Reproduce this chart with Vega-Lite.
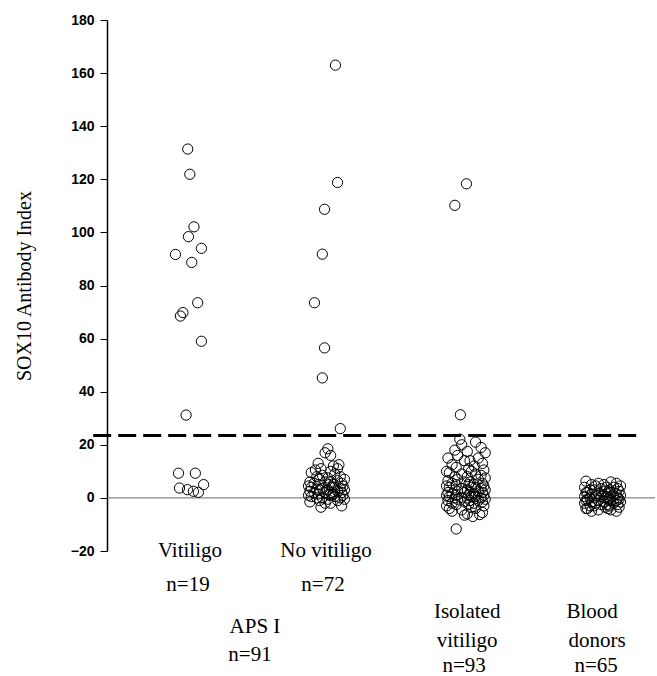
{
  "$schema": "https://vega.github.io/schema/vega-lite/v6.json",
  "autosize": "none",
  "width": 548,
  "height": 531,
  "padding": {"left": 107, "top": 20, "right": 2, "bottom": 125},
  "background": "white",
  "config": {"view": {"stroke": null}},
  "datasets": {
    "points": [
      {"g":"Vitiligo","p":0.995,"v":131.4},{"g":"Vitiligo","p":1.01,"v":121.9},{"g":"Vitiligo","p":1.04,"v":102.1},{"g":"Vitiligo","p":1.0,"v":98.4},{"g":"Vitiligo","p":1.094,"v":94.0},{"g":"Vitiligo","p":0.906,"v":91.7},{"g":"Vitiligo","p":1.024,"v":88.7},{"g":"Vitiligo","p":1.067,"v":73.5},{"g":"Vitiligo","p":0.96,"v":69.8},{"g":"Vitiligo","p":0.942,"v":68.5},{"g":"Vitiligo","p":1.094,"v":59.0},{"g":"Vitiligo","p":0.983,"v":31.2},{"g":"Vitiligo","p":0.928,"v":9.3},{"g":"Vitiligo","p":1.05,"v":9.3},{"g":"Vitiligo","p":1.11,"v":5.0},{"g":"Vitiligo","p":0.935,"v":3.7},{"g":"Vitiligo","p":0.993,"v":3.1},{"g":"Vitiligo","p":1.036,"v":2.5},{"g":"Vitiligo","p":1.072,"v":2.1},
      {"g":"No vitiligo","p":2.065,"v":163},{"g":"No vitiligo","p":2.08,"v":118.8},{"g":"No vitiligo","p":1.986,"v":108.7},{"g":"No vitiligo","p":1.97,"v":91.8},{"g":"No vitiligo","p":1.913,"v":73.5},{"g":"No vitiligo","p":1.986,"v":56.5},{"g":"No vitiligo","p":1.97,"v":45.2},{"g":"No vitiligo","p":2.1,"v":26.1},
      {"g":"No vitiligo","p":2.01,"v":18.5},{"g":"No vitiligo","p":1.99,"v":17},{"g":"No vitiligo","p":2.03,"v":16},{"g":"No vitiligo","p":1.94,"v":13},{"g":"No vitiligo","p":2.09,"v":12.5},{"g":"No vitiligo","p":2.05,"v":12},{"g":"No vitiligo","p":1.96,"v":11},{"g":"No vitiligo","p":2.08,"v":11},{"g":"No vitiligo","p":1.92,"v":10.5},{"g":"No vitiligo","p":2.03,"v":10},
      {"g":"No vitiligo","p":1.89,"v":9.5},{"g":"No vitiligo","p":2.06,"v":9},{"g":"No vitiligo","p":1.97,"v":8.5},{"g":"No vitiligo","p":2.10,"v":8},{"g":"No vitiligo","p":1.93,"v":8},{"g":"No vitiligo","p":2.01,"v":7.5},{"g":"No vitiligo","p":2.13,"v":7},{"g":"No vitiligo","p":1.95,"v":7},{"g":"No vitiligo","p":2.08,"v":6.5},{"g":"No vitiligo","p":1.88,"v":6},{"g":"No vitiligo","p":2.03,"v":6},{"g":"No vitiligo","p":1.99,"v":6},{"g":"No vitiligo","p":2.11,"v":5.5},{"g":"No vitiligo","p":1.91,"v":5.5},{"g":"No vitiligo","p":2.05,"v":5},{"g":"No vitiligo","p":1.94,"v":5},{"g":"No vitiligo","p":2.02,"v":5},{"g":"No vitiligo","p":2.12,"v":4.5},{"g":"No vitiligo","p":1.87,"v":4.5},{"g":"No vitiligo","p":2.04,"v":4},
      {"g":"No vitiligo","p":1.89,"v":4},{"g":"No vitiligo","p":2.06,"v":4},{"g":"No vitiligo","p":1.97,"v":3.5},{"g":"No vitiligo","p":2.10,"v":3.5},{"g":"No vitiligo","p":1.93,"v":3},{"g":"No vitiligo","p":2.01,"v":3},{"g":"No vitiligo","p":2.13,"v":3},{"g":"No vitiligo","p":1.95,"v":3},{"g":"No vitiligo","p":2.08,"v":2.5},{"g":"No vitiligo","p":1.88,"v":2.5},{"g":"No vitiligo","p":2.03,"v":2},{"g":"No vitiligo","p":1.99,"v":2},{"g":"No vitiligo","p":2.11,"v":2},{"g":"No vitiligo","p":1.91,"v":2},{"g":"No vitiligo","p":2.05,"v":1.5},{"g":"No vitiligo","p":1.94,"v":1.5},{"g":"No vitiligo","p":2.02,"v":1},{"g":"No vitiligo","p":2.12,"v":1},{"g":"No vitiligo","p":1.87,"v":1},{"g":"No vitiligo","p":2.04,"v":1},
      {"g":"No vitiligo","p":1.89,"v":0.5},{"g":"No vitiligo","p":2.06,"v":0.5},{"g":"No vitiligo","p":1.97,"v":0},{"g":"No vitiligo","p":2.10,"v":0},{"g":"No vitiligo","p":1.93,"v":0},{"g":"No vitiligo","p":2.01,"v":-0.5},{"g":"No vitiligo","p":2.13,"v":-0.5},{"g":"No vitiligo","p":1.95,"v":-1},{"g":"No vitiligo","p":2.08,"v":-1},{"g":"No vitiligo","p":1.88,"v":-1.5},{"g":"No vitiligo","p":2.03,"v":-2},{"g":"No vitiligo","p":1.99,"v":-2},{"g":"No vitiligo","p":2.11,"v":-3},{"g":"No vitiligo","p":1.96,"v":-3.5},
      {"g":"Isolated vitiligo","p":3.014,"v":118.3},{"g":"Isolated vitiligo","p":2.93,"v":110.2},{"g":"Isolated vitiligo","p":2.97,"v":31.3},{"g":"Isolated vitiligo","p":2.966,"v":22.1},
      {"g":"Isolated vitiligo","p":3.08,"v":21},{"g":"Isolated vitiligo","p":2.98,"v":20},{"g":"Isolated vitiligo","p":3.12,"v":19},{"g":"Isolated vitiligo","p":2.93,"v":18},{"g":"Isolated vitiligo","p":3.02,"v":17.5},{"g":"Isolated vitiligo","p":3.15,"v":17},{"g":"Isolated vitiligo","p":2.95,"v":16},{"g":"Isolated vitiligo","p":3.10,"v":15},{"g":"Isolated vitiligo","p":2.88,"v":15},{"g":"Isolated vitiligo","p":3.04,"v":14},{"g":"Isolated vitiligo","p":3.00,"v":14},{"g":"Isolated vitiligo","p":3.13,"v":13},{"g":"Isolated vitiligo","p":2.91,"v":12.5},{"g":"Isolated vitiligo","p":3.07,"v":12},{"g":"Isolated vitiligo","p":2.94,"v":11.5},{"g":"Isolated vitiligo","p":3.03,"v":11},{"g":"Isolated vitiligo","p":3.14,"v":10.5},{"g":"Isolated vitiligo","p":2.87,"v":10},{"g":"Isolated vitiligo","p":3.05,"v":10},
      {"g":"Isolated vitiligo","p":2.89,"v":9.5},{"g":"Isolated vitiligo","p":3.08,"v":9},{"g":"Isolated vitiligo","p":2.98,"v":9},{"g":"Isolated vitiligo","p":3.12,"v":8.5},{"g":"Isolated vitiligo","p":2.93,"v":8},{"g":"Isolated vitiligo","p":3.02,"v":8},{"g":"Isolated vitiligo","p":3.15,"v":7.5},{"g":"Isolated vitiligo","p":2.95,"v":7},{"g":"Isolated vitiligo","p":3.10,"v":7},{"g":"Isolated vitiligo","p":2.88,"v":6.5},{"g":"Isolated vitiligo","p":3.04,"v":6},{"g":"Isolated vitiligo","p":3.00,"v":6},{"g":"Isolated vitiligo","p":3.13,"v":5.5},{"g":"Isolated vitiligo","p":2.91,"v":5.5},{"g":"Isolated vitiligo","p":3.07,"v":5},{"g":"Isolated vitiligo","p":2.94,"v":5},{"g":"Isolated vitiligo","p":3.03,"v":5},{"g":"Isolated vitiligo","p":3.14,"v":4.5},{"g":"Isolated vitiligo","p":2.87,"v":4.5},{"g":"Isolated vitiligo","p":3.05,"v":4},
      {"g":"Isolated vitiligo","p":2.89,"v":4},{"g":"Isolated vitiligo","p":3.08,"v":4},{"g":"Isolated vitiligo","p":2.98,"v":3.5},{"g":"Isolated vitiligo","p":3.12,"v":3.5},{"g":"Isolated vitiligo","p":2.93,"v":3},{"g":"Isolated vitiligo","p":3.02,"v":3},{"g":"Isolated vitiligo","p":3.15,"v":3},{"g":"Isolated vitiligo","p":2.95,"v":2.5},{"g":"Isolated vitiligo","p":3.10,"v":2.5},{"g":"Isolated vitiligo","p":2.88,"v":2},{"g":"Isolated vitiligo","p":3.04,"v":2},{"g":"Isolated vitiligo","p":3.00,"v":2},{"g":"Isolated vitiligo","p":3.13,"v":2},{"g":"Isolated vitiligo","p":2.91,"v":1.5},{"g":"Isolated vitiligo","p":3.07,"v":1.5},{"g":"Isolated vitiligo","p":2.94,"v":1},{"g":"Isolated vitiligo","p":3.03,"v":1},{"g":"Isolated vitiligo","p":3.14,"v":1},{"g":"Isolated vitiligo","p":2.87,"v":1},{"g":"Isolated vitiligo","p":3.05,"v":0.5},
      {"g":"Isolated vitiligo","p":2.89,"v":0.5},{"g":"Isolated vitiligo","p":3.08,"v":0.5},{"g":"Isolated vitiligo","p":2.98,"v":0},{"g":"Isolated vitiligo","p":3.12,"v":0},{"g":"Isolated vitiligo","p":2.93,"v":0},{"g":"Isolated vitiligo","p":3.02,"v":0},{"g":"Isolated vitiligo","p":3.15,"v":-0.5},{"g":"Isolated vitiligo","p":2.95,"v":-0.5},{"g":"Isolated vitiligo","p":3.10,"v":-1},{"g":"Isolated vitiligo","p":2.88,"v":-1},{"g":"Isolated vitiligo","p":3.04,"v":-1},{"g":"Isolated vitiligo","p":3.00,"v":-1.5},{"g":"Isolated vitiligo","p":3.13,"v":-1.5},{"g":"Isolated vitiligo","p":2.91,"v":-2},{"g":"Isolated vitiligo","p":3.07,"v":-2},{"g":"Isolated vitiligo","p":2.94,"v":-2.5},{"g":"Isolated vitiligo","p":3.03,"v":-2.5},{"g":"Isolated vitiligo","p":3.14,"v":-3},{"g":"Isolated vitiligo","p":2.87,"v":-3},{"g":"Isolated vitiligo","p":3.05,"v":-3.5},
      {"g":"Isolated vitiligo","p":2.89,"v":-4},{"g":"Isolated vitiligo","p":3.08,"v":-4},{"g":"Isolated vitiligo","p":2.98,"v":-4.5},{"g":"Isolated vitiligo","p":2.91,"v":-5},{"g":"Isolated vitiligo","p":3.13,"v":-5.5},{"g":"Isolated vitiligo","p":3.02,"v":-6},{"g":"Isolated vitiligo","p":3.11,"v":-6.3},{"g":"Isolated vitiligo","p":3.0,"v":-6.5},{"g":"Isolated vitiligo","p":3.06,"v":-7},{"g":"Isolated vitiligo","p":2.94,"v":-11.7},
      {"g":"Blood donors","p":3.88,"v":6.3},{"g":"Blood donors","p":4.06,"v":6},{"g":"Blood donors","p":3.97,"v":5.5},{"g":"Blood donors","p":4.10,"v":5.5},{"g":"Blood donors","p":3.92,"v":5},{"g":"Blood donors","p":4.01,"v":5},{"g":"Blood donors","p":4.13,"v":4.5},{"g":"Blood donors","p":3.95,"v":4.5},{"g":"Blood donors","p":4.08,"v":4},{"g":"Blood donors","p":3.87,"v":4},{"g":"Blood donors","p":4.03,"v":4},{"g":"Blood donors","p":3.99,"v":3.5},{"g":"Blood donors","p":4.11,"v":3.5},{"g":"Blood donors","p":3.91,"v":3},{"g":"Blood donors","p":4.05,"v":3},{"g":"Blood donors","p":3.94,"v":3},{"g":"Blood donors","p":4.02,"v":2.5},{"g":"Blood donors","p":4.12,"v":2.5},{"g":"Blood donors","p":3.89,"v":2},{"g":"Blood donors","p":4.04,"v":2},
      {"g":"Blood donors","p":3.88,"v":2},{"g":"Blood donors","p":4.06,"v":2},{"g":"Blood donors","p":3.97,"v":1.5},{"g":"Blood donors","p":4.10,"v":1.5},{"g":"Blood donors","p":3.92,"v":1.5},{"g":"Blood donors","p":4.01,"v":1},{"g":"Blood donors","p":4.13,"v":1},{"g":"Blood donors","p":3.95,"v":1},{"g":"Blood donors","p":4.08,"v":1},{"g":"Blood donors","p":3.87,"v":0.5},{"g":"Blood donors","p":4.03,"v":0.5},{"g":"Blood donors","p":3.99,"v":0.5},{"g":"Blood donors","p":4.11,"v":0},{"g":"Blood donors","p":3.91,"v":0},{"g":"Blood donors","p":4.05,"v":0},{"g":"Blood donors","p":3.94,"v":0},{"g":"Blood donors","p":4.02,"v":0},{"g":"Blood donors","p":4.12,"v":-0.5},{"g":"Blood donors","p":3.89,"v":-0.5},{"g":"Blood donors","p":4.04,"v":-0.5},
      {"g":"Blood donors","p":3.88,"v":-1},{"g":"Blood donors","p":4.06,"v":-1},{"g":"Blood donors","p":3.97,"v":-1},{"g":"Blood donors","p":4.10,"v":-1},{"g":"Blood donors","p":3.92,"v":-1.5},{"g":"Blood donors","p":4.01,"v":-1.5},{"g":"Blood donors","p":4.13,"v":-1.5},{"g":"Blood donors","p":3.95,"v":-2},{"g":"Blood donors","p":4.08,"v":-2},{"g":"Blood donors","p":3.87,"v":-2},{"g":"Blood donors","p":4.03,"v":-2.5},{"g":"Blood donors","p":3.99,"v":-2.5},{"g":"Blood donors","p":4.11,"v":-2.5},{"g":"Blood donors","p":3.91,"v":-3},{"g":"Blood donors","p":4.05,"v":-3},{"g":"Blood donors","p":3.94,"v":-3},{"g":"Blood donors","p":4.02,"v":-3.5},{"g":"Blood donors","p":4.12,"v":-3.5},{"g":"Blood donors","p":3.89,"v":-4},{"g":"Blood donors","p":4.04,"v":-4},
      {"g":"Blood donors","p":3.88,"v":-4},{"g":"Blood donors","p":4.06,"v":-4.5},{"g":"Blood donors","p":3.97,"v":-4.5},{"g":"Blood donors","p":4.10,"v":-5},{"g":"Blood donors","p":3.92,"v":-5}
    ],
    "labels": [
      {"label":"Vitiligo","p":1.011,"v":-20.0},
      {"label":"n=19","p":0.997,"v":-32.8},
      {"label":"No vitiligo","p":1.997,"v":-20.0},
      {"label":"n=72","p":1.975,"v":-32.8},
      {"label":"APS I","p":1.482,"v":-48.6},
      {"label":"n=91","p":1.446,"v":-59.2},
      {"label":"Isolated","p":3.019,"v":-43.0},
      {"label":"vitiligo","p":3.019,"v":-53.9},
      {"label":"n=93","p":2.997,"v":-63.3},
      {"label":"Blood","p":3.924,"v":-43.0},
      {"label":"donors","p":3.961,"v":-53.9},
      {"label":"n=65","p":3.954,"v":-63.3}
    ],
    "lines": [
      {"kind": "zero", "p": 0.41, "p2": 4.38, "v": 0},
      {"kind": "cutoff", "p": 0.31, "p2": 4.25, "v": 23.5}
    ]
  },
  "encoding": {
    "x": {"field": "p", "type": "quantitative", "scale": {"domain": [0.41, 4.38], "nice": false, "zero": false}, "axis": null},
    "y": {
      "field": "v", "type": "quantitative",
      "scale": {"domain": [-20, 180], "nice": false, "zero": false},
      "axis": {
        "values": [-20, 0, 20, 40, 60, 80, 100, 120, 140, 160, 180],
        "grid": false,
        "title": "SOX10 Antibody Index",
        "titleFont": "Liberation Serif",
        "titleFontSize": 20,
        "titleFontWeight": "normal",
        "titleColor": "black",
        "titleX": -83,
        "titleBaseline": "middle",
        "labelFont": "Liberation Sans",
        "labelFontWeight": "bold",
        "labelFontSize": 14,
        "labelColor": "black",
        "labelPadding": 6,
        "tickColor": "black",
        "tickSize": 7,
        "domainColor": "black",
        "domainWidth": 1.5
      }
    }
  },
  "layer": [
    {
      "data": {"name": "lines"},
      "transform": [{"filter": "datum.kind == 'zero'"}],
      "mark": {"type": "rule", "color": "#666666", "strokeWidth": 1},
      "encoding": {"x2": {"field": "p2"}}
    },
    {
      "data": {"name": "lines"},
      "transform": [{"filter": "datum.kind == 'cutoff'"}],
      "mark": {"type": "rule", "color": "black", "strokeWidth": 3, "strokeDash": [18, 7], "clip": false},
      "encoding": {"x2": {"field": "p2"}}
    },
    {
      "data": {"name": "points"},
      "mark": {"type": "point", "shape": "circle", "filled": false, "color": "black", "strokeWidth": 1, "size": 105, "opacity": 1}
    },
    {
      "data": {"name": "labels"},
      "mark": {"type": "text", "font": "Liberation Serif", "fontSize": 21, "color": "black", "align": "center", "baseline": "middle", "clip": false},
      "encoding": {"text": {"field": "label", "type": "nominal"}}
    }
  ]
}
